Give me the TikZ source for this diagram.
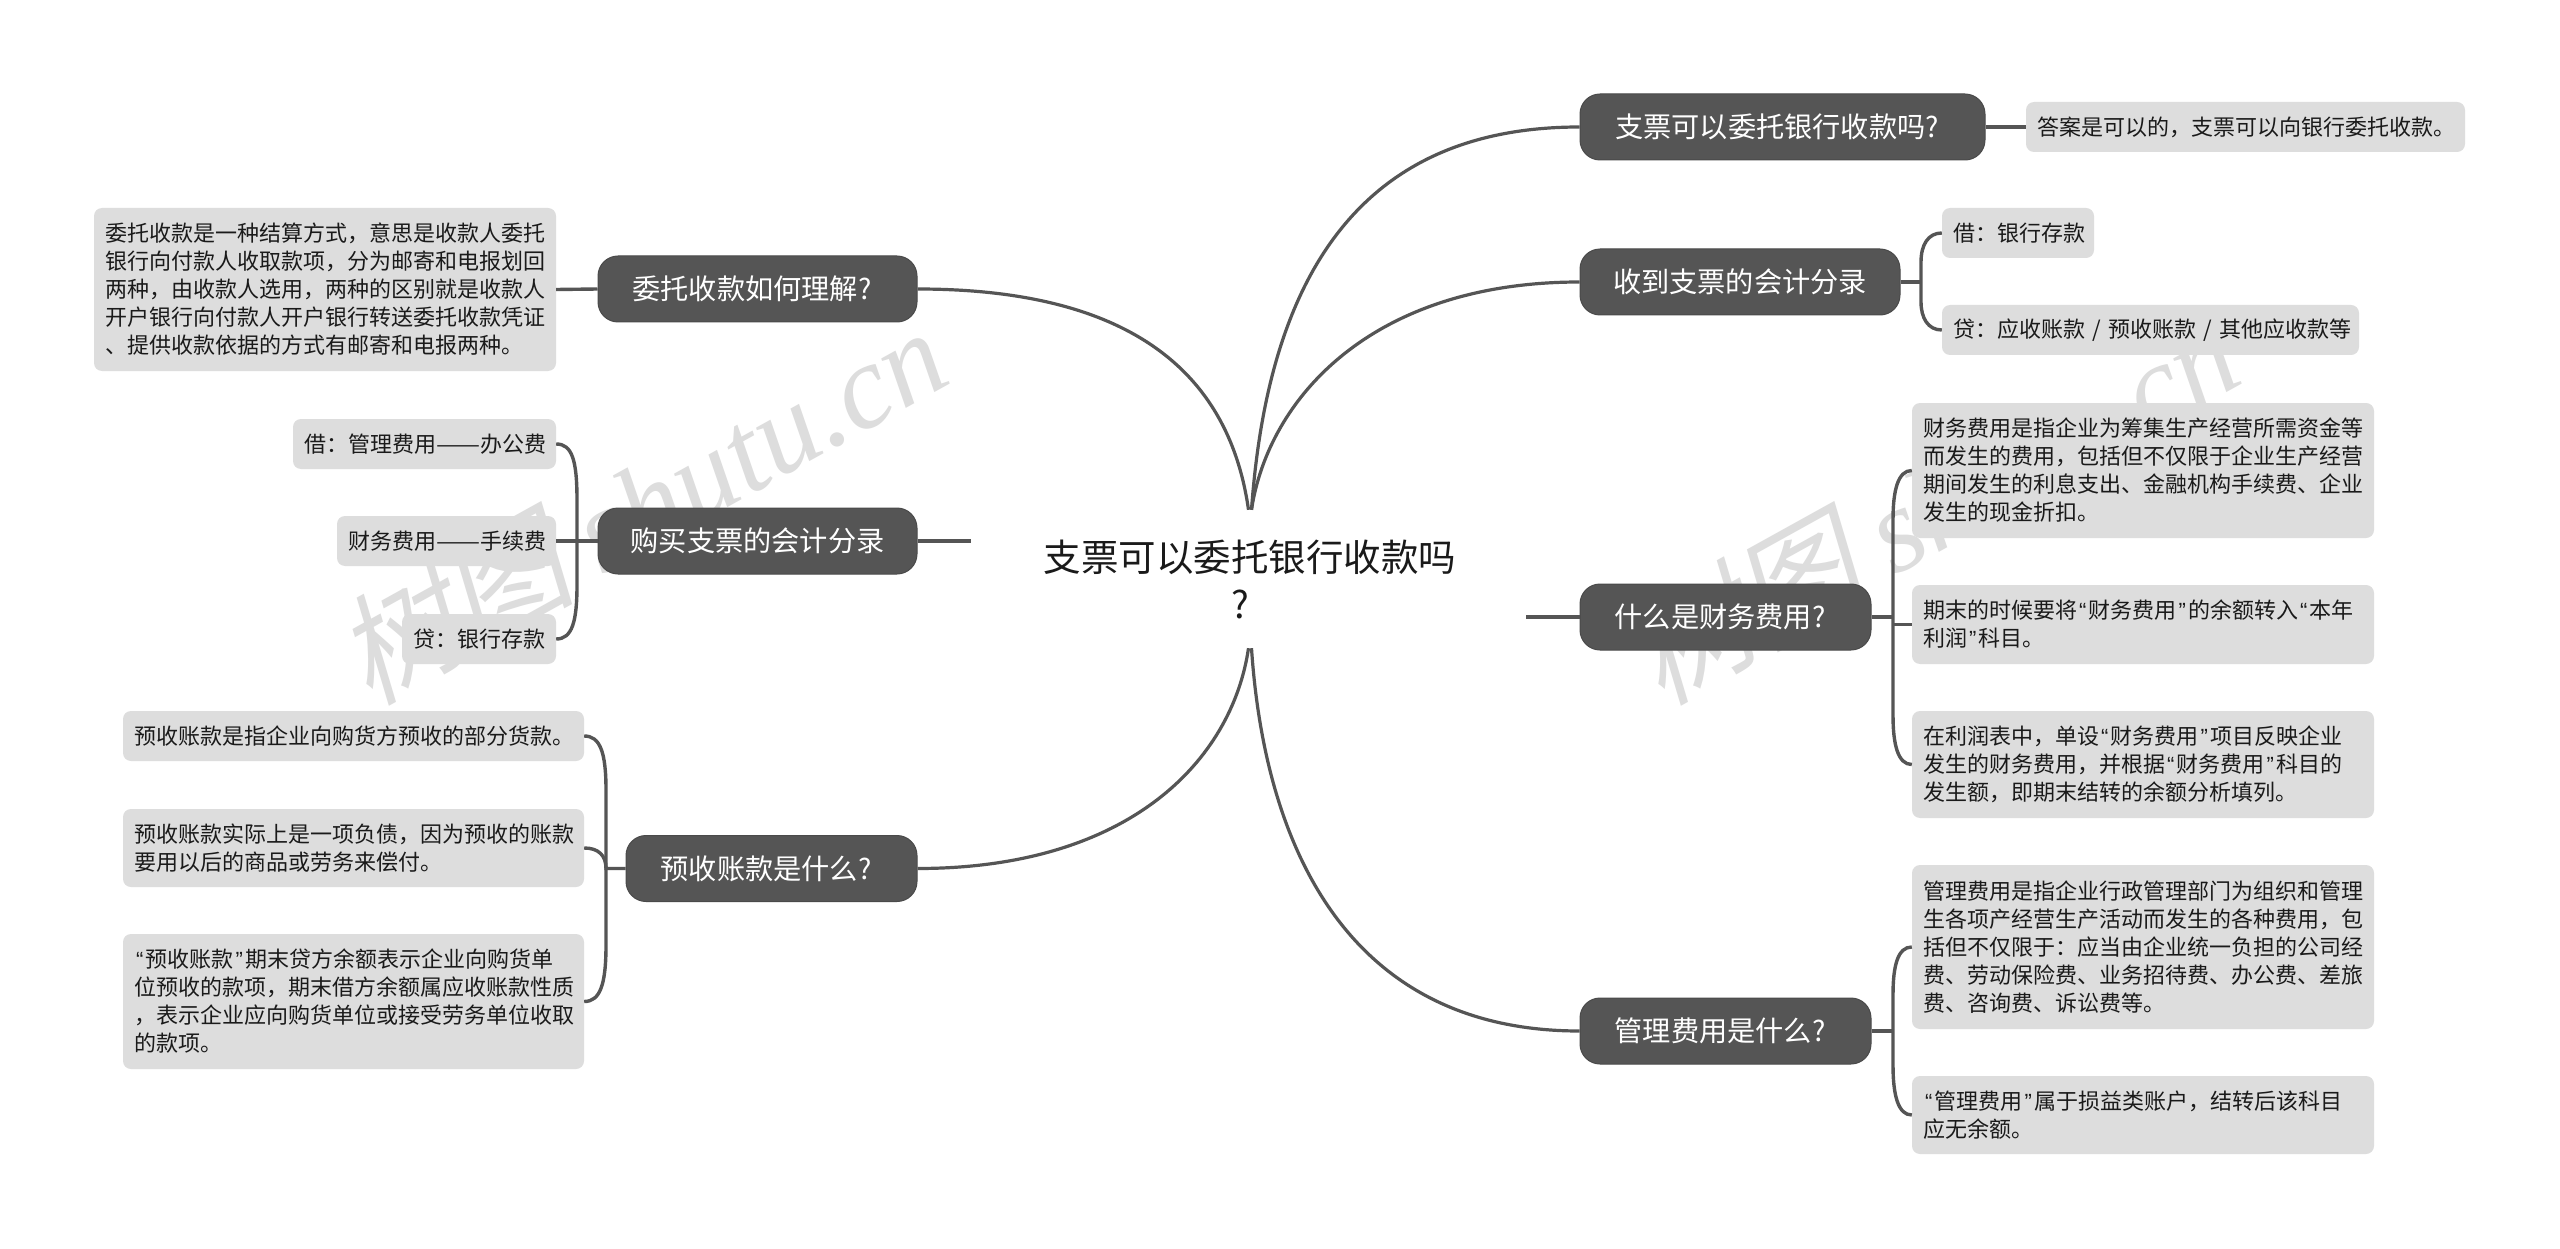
\documentclass[tikz,border=0pt]{standalone}
\usepackage{fontspec}
\setmainfont{Noto Sans CJK SC}
\newfontfamily\qfont{Liberation Sans}
\newfontfamily\wmcjk[FakeSlant=0.22]{Noto Sans CJK SC}
\newfontfamily\wmlat{Liberation Serif Italic}
\newcommand{\qo}{\makebox[11.5pt][c]{\qfont “}}
\newcommand{\qc}{\makebox[11.5pt][c]{\qfont ”}}
\newcommand{\dd}{\resizebox{44pt}{\height}{——}}
\newcommand{\qm}{?\hspace*{11pt}}
\tikzset{
  leaf/.style={fill=leafgray,rounded corners=8pt,inner xsep=11pt,inner ysep=0pt,align=left,text=txtdark,font=\fontsize{22}{28}\selectfont},
  branch/.style={fill=nodedark,draw=nodeedge,line width=1pt,rounded corners=20pt,inner sep=0pt,text=white,align=center,font=\fontsize{28.2}{34}\selectfont},
  rootnode/.style={inner sep=0pt,align=center,text=txtdark,font=\fontsize{37.5}{47}\selectfont},
  conn/.style={draw=nodedark,line width=3.4pt},
  main/.style={draw=nodedark,line width=3.2pt},
  wm/.style={rotate=29,text=leafgray,inner sep=0pt}
}
\definecolor{leafgray}{HTML}{DDDDDD}
\definecolor{nodedark}{HTML}{555555}
\definecolor{nodeedge}{HTML}{4A4A4A}
\definecolor{txtdark}{HTML}{1A1A1A}
\begin{document}
\begin{tikzpicture}[x=1pt,y=-1pt]
\useasboundingbox[fill=white] (0,0) rectangle (2560,1249);
% watermarks
\node[wm] (w1) at (640,504) {\fontsize{120}{120}\selectfont{\wmcjk 树图} {\wmlat shutu.cn}};
\node[wm] (w2) at (1932,504) {\fontsize{120}{120}\selectfont{\wmcjk 树图} {\wmlat shutu.cn}};
% root
\node[rootnode,minimum width=552pt,minimum height=138pt] (root) at (1250,579) {支票可以委托银行收款吗\\?\hspace*{20pt}};
% left branches
\node[branch,minimum width=319pt,minimum height=66pt] (b1) at (757.5,289) {委托收款如何理解\qm};
\node[branch,minimum width=319pt,minimum height=66pt] (b2) at (757.5,541) {购买支票的会计分录};
\node[branch,minimum width=291pt,minimum height=66pt] (b3) at (771.5,868.5) {预收账款是什么\qm};
% right branches
\node[branch,minimum width=405pt,minimum height=66pt] (r1) at (1782.5,127) {支票可以委托银行收款吗\qm};
\node[branch,minimum width=320pt,minimum height=66pt] (r2) at (1740,282) {收到支票的会计分录};
\node[branch,minimum width=291pt,minimum height=66pt] (r3) at (1725.5,617) {什么是财务费用\qm};
\node[branch,minimum width=291pt,minimum height=66pt] (r4) at (1725.5,1031) {管理费用是什么\qm};
% left leaves
\node[leaf,text width=440pt,minimum height=163pt] (l1) at (325,289.5) {委托收款是一种结算方式，意思是收款人委托\\银行向付款人收取款项，分为邮寄和电报划回\\两种，由收款人选用，两种的区别就是收款人\\开户银行向付款人开户银行转送委托收款凭证\\、提供收款依据的方式有邮寄和电报两种。};
\node[leaf,text width=241pt,minimum height=50pt] (l2a) at (424.5,444) {借：管理费用\dd 办公费};
\node[leaf,text width=197pt,minimum height=50pt] (l2b) at (446.5,541) {财务费用\dd 手续费};
\node[leaf,text width=132pt,minimum height=50pt] (l2c) at (479,639) {贷：银行存款};
\node[leaf,text width=439pt,minimum height=50pt] (l3a) at (353.5,736) {预收账款是指企业向购货方预收的部分货款。};
\node[leaf,text width=439pt,minimum height=78pt] (l3b) at (353.5,848) {预收账款实际上是一项负债，因为预收的账款\\要用以后的商品或劳务来偿付。};
\node[leaf,text width=439pt,minimum height=135pt] (l3c) at (353.5,1001.5) {\qo 预收账款\qc 期末贷方余额表示企业向购货单\\位预收的款项，期末借方余额属应收账款性质\\，表示企业应向购货单位或接受劳务单位收取\\的款项。};
% right leaves
\node[leaf,text width=417pt,minimum height=50pt] (r1a) at (2245.5,127) {答案是可以的，支票可以向银行委托收款。};
\node[leaf,text width=130pt,minimum height=50pt] (r2a) at (2018,233) {借：银行存款};
\node[leaf,text width=395pt,minimum height=50pt] (r2b) at (2150.5,330) {\mbox{贷：应收账款 / 预收账款 / 其他应收款等}};
\node[leaf,text width=440pt,minimum height=135pt] (r3a) at (2143,470.5) {财务费用是指企业为筹集生产经营所需资金等\\而发生的费用，包括但不仅限于企业生产经营\\期间发生的利息支出、金融机构手续费、企业\\发生的现金折扣。};
\node[leaf,text width=440pt,minimum height=79pt] (r3b) at (2143,624.5) {期末的时候要将\qo 财务费用\qc 的余额转入\qo 本年\\利润\qc 科目。};
\node[leaf,text width=440pt,minimum height=107pt] (r3c) at (2143,764.5) {在利润表中，单设\qo 财务费用\qc 项目反映企业\\发生的财务费用，并根据\qo 财务费用\qc 科目的\\发生额，即期末结转的余额分析填列。};
\node[leaf,text width=440pt,minimum height=164pt] (r4a) at (2143,947) {管理费用是指企业行政管理部门为组织和管理\\生各项产经营生产活动而发生的各种费用，包\\括但不仅限于：应当由企业统一负担的公司经\\费、劳动保险费、业务招待费、办公费、差旅\\费、咨询费、诉讼费等。};
\node[leaf,text width=440pt,minimum height=78pt] (r4b) at (2143,1115) {\qo 管理费用\qc 属于损益类账户，结转后该科目\\应无余额。};
% free stub ends
\coordinate (s2) at (971,541);
\coordinate (s3) at (1526,617);
\coordinate (rtl) at ([xshift=-1.5pt]root.north);
\coordinate (rtr) at ([xshift=1.5pt]root.north);
\coordinate (rbl) at ([xshift=-1.5pt]root.south);
\coordinate (rbr) at ([xshift=1.5pt]root.south);
% main curves
\draw[main] (rtl) .. controls (1230,380) and (1140,289) .. (b1.east);
\draw[main] (rbl) .. controls (1232,760) and (1130,868.5) .. (b3.east);
\draw[main] (rtr) .. controls (1270,250) and (1380,127) .. (r1.west);
\draw[main] (rtr) .. controls (1268,400) and (1370,282) .. (r2.west);
\draw[main] (rbr) .. controls (1265,850) and (1350,1031) .. (r4.west);
\draw[conn] (b2.east) -- (s2);
\draw[conn] (r3.west) -- (s3);
% straight child links
\draw[conn] (l1.east) -- (b1.west);
\draw[conn] (r1.east) -- (r1a.west);
\draw[conn] (l2b.east) -- (b2.west);
% bracket children, left
\draw[conn] (l2a.east) .. controls (572,444) and (577,460) .. (577,500) -- (577,585) .. controls (577,622) and (572,639) .. (l2c.east);
\draw[conn] (l3a.east) .. controls (600,736) and (606,752) .. (606,790) -- (606,945) .. controls (606,985) and (600,1001.5) .. (l3c.east);
\draw[conn] (l3b.east) .. controls (598,848) and (606,855) .. (606,868.5) -- (b3.west);
% bracket children, right
\draw[conn] (r2.east) -- (1921,282);
\draw[conn] (r2a.west) .. controls (1928,233) and (1921,245) .. (1921,262) -- (1921,302) .. controls (1921,318) and (1928,330) .. (r2b.west);
\draw[conn] (r3.east) -- (1893,617);
\draw[conn] (r3a.west) .. controls (1898,470.5) and (1893,490) .. (1893,520) -- (1893,715) .. controls (1893,745) and (1898,764.5) .. (r3c.west);
\draw[conn] (r3b.west) -- (1893,624.5);
\draw[conn] (r4.east) -- (1893,1031);
\draw[conn] (r4a.west) .. controls (1898,947) and (1893,965) .. (1893,995) -- (1893,1065) .. controls (1893,1095) and (1898,1115) .. (r4b.west);
\end{tikzpicture}
\end{document}
